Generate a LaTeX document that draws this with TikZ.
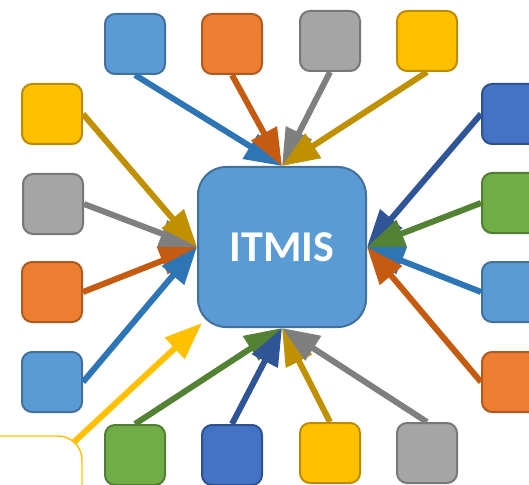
\documentclass[tikz,border=0pt]{standalone}
\usepackage{fontspec}
\setmainfont{Carlito}
\usetikzlibrary{arrows.meta}
\definecolor{fB}{HTML}{5B9BD5}\definecolor{dB}{HTML}{41719C}\definecolor{aB}{HTML}{2E75B6}
\definecolor{fO}{HTML}{ED7D31}\definecolor{dO}{HTML}{AE5A21}\definecolor{aO}{HTML}{C55A11}
\definecolor{fG}{HTML}{A5A5A5}\definecolor{dG}{HTML}{787878}\definecolor{aG}{HTML}{7F7F7F}
\definecolor{fY}{HTML}{FFC000}\definecolor{dY}{HTML}{BC8C00}\definecolor{aY}{HTML}{BF9000}
\definecolor{fK}{HTML}{4472C4}\definecolor{dK}{HTML}{2F528F}\definecolor{aK}{HTML}{2F5597}
\definecolor{fN}{HTML}{70AD47}\definecolor{dN}{HTML}{507E32}\definecolor{aN}{HTML}{548235}
\tikzset{
  sq/.style n args={2}{fill=#1, draw=#2, line width=1.5pt, rounded corners=7.5pt,
    minimum width=45pt, minimum height=45pt, inner sep=0pt},
  hub/.style={fill=fB, draw=dB, line width=1.5pt, rounded corners=21pt,
    minimum width=126pt, minimum height=120pt, inner sep=0pt, text=white,
    font=\fontsize{33}{36}\selectfont\bfseries},
  arr/.style={line width=4.5pt, draw=#1, -{Triangle[length=28pt,width=21pt]}}
}
\begin{document}
\begin{tikzpicture}[x=0.75pt,y=-0.75pt]
\useasboundingbox (0,0) rectangle (529,485);
\clip (0,0) rectangle (529,485);
% centre
\node[hub] (c) at (282,247) {ITMIS};
% top row
\node[sq={fB}{dB}] (t1) at (135,44) {};
\node[sq={fO}{dO}] (t2) at (232,44) {};
\node[sq={fG}{dG}] (t3) at (330,41) {};
\node[sq={fY}{dY}] (t4) at (427,41) {};
% left column
\node[sq={fY}{dY}] (l1) at (52,114) {};
\node[sq={fG}{dG}] (l2) at (53,204) {};
\node[sq={fO}{dO}] (l3) at (52,292) {};
\node[sq={fB}{dB}] (l4) at (52,382) {};
% right column
\node[sq={fK}{dK}] (r1) at (512,114) {};
\node[sq={fN}{dN}] (r2) at (512,203) {};
\node[sq={fB}{dB}] (r3) at (512,292) {};
\node[sq={fO}{dO}] (r4) at (512,382) {};
% bottom row
\node[sq={fN}{dN}] (b1) at (135,455) {};
\node[sq={fK}{dK}] (b2) at (232,455) {};
\node[sq={fY}{dY}] (b3) at (330,453) {};
\node[sq={fG}{dG}] (b4) at (427,453) {};
% outlined box, bottom left
\node[draw=fY, line width=1.1pt, rounded corners=18pt, minimum width=105pt,
  minimum height=75pt, inner sep=0pt] (ob) at (12,486) {};
\coordinate (ys) at (74,442);
\coordinate (yt) at (202,323);
% arrows
\draw[arr=aB] (t1.south) -- (c.north);
\draw[arr=aO] (t2.south) -- (c.north);
\draw[arr=aG] (t3.south) -- (c.north);
\draw[arr=aY] (t4.south) -- (c.north);
\draw[arr=aG] (l2.east) -- (c.west);
\draw[arr=aY] (l1.east) -- (c.west);
\draw[arr=aO] (l3.east) -- (c.west);
\draw[arr=aB] (l4.east) -- (c.west);
\draw[arr=aK] (r1.west) -- (c.east);
\draw[arr=aN] (r2.west) -- (c.east);
\draw[arr=aB] (r3.west) -- (c.east);
\draw[arr=aO] (r4.west) -- (c.east);
\draw[arr=aN] (b1.north) -- (c.south);
\draw[arr=aK] (b2.north) -- (c.south);
\draw[arr=aY] (b3.north) -- (c.south);
\draw[arr=aG] (b4.north) -- (c.south);
\draw[arr=fY] (ys) -- (yt);
\end{tikzpicture}
\end{document}
